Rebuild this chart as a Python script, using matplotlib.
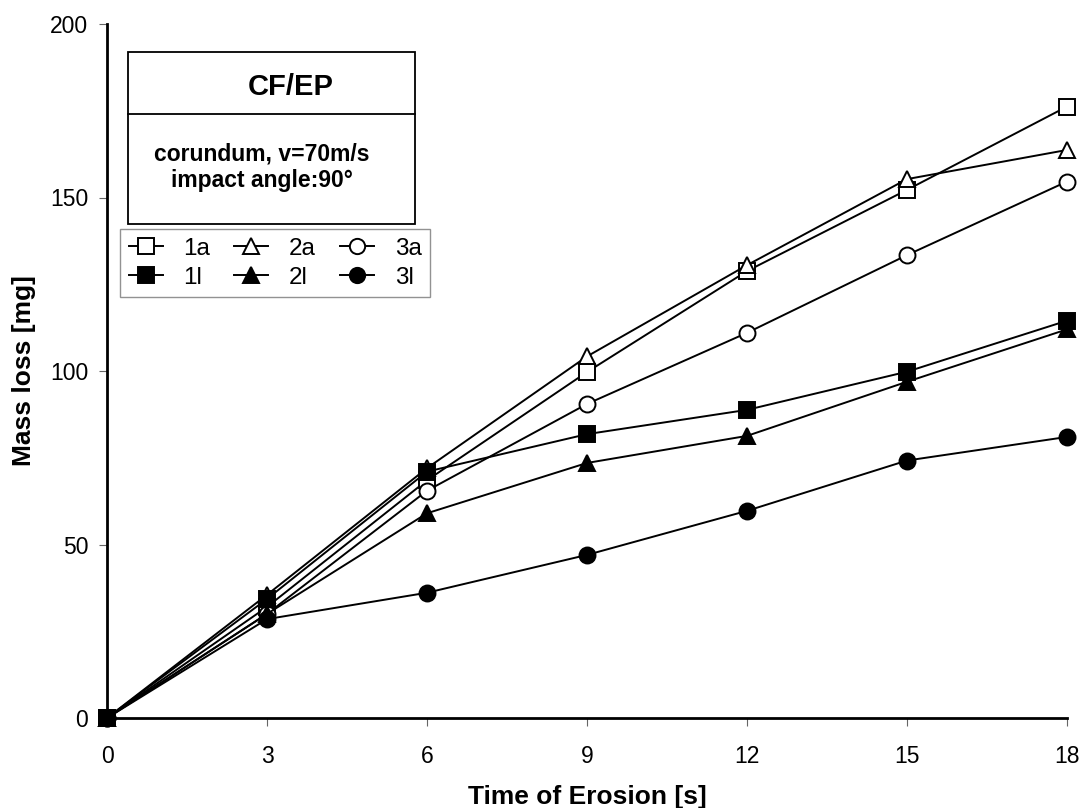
import matplotlib.pyplot as plt
from matplotlib.patches import Rectangle
from matplotlib.lines import Line2D

plt.rcParams['font.family'] = ['Liberation Sans', 'DejaVu Sans']

time_s = [0, 3, 6, 9, 12, 15, 18]
mass_1a = [0, 32, 68.5, 99.7, 128.8, 152.2, 176.2]
mass_2a = [0, 35.5, 72, 104.2, 130.5, 155.3, 163.7]
mass_3a = [0, 30, 65.5, 90.5, 111, 133.4, 154.6]
mass_1l = [0, 34.3, 71, 81.8, 88.8, 99.8, 114.5]
mass_2l = [0, 30, 59, 73.5, 81.3, 96.9, 112]
mass_3l = [0, 28.5, 36.1, 47, 59.7, 74.2, 81]

series = [
    ('1a', mass_1a, 's', 'white'),
    ('2a', mass_2a, '^', 'white'),
    ('3a', mass_3a, 'o', 'white'),
    ('1l', mass_1l, 's', 'black'),
    ('2l', mass_2l, '^', 'black'),
    ('3l', mass_3l, 'o', 'black'),
]

fig = plt.figure(figsize=(10.83, 8.08), dpi=100)
ax = fig.add_axes([107 / 1083, 1 - 718 / 808, 960 / 1083, 694 / 808])

handles = {}
for name, vals, mk, fc in series:
    h, = ax.plot(time_s, vals, color='black', lw=1.4, marker=mk, markersize=11.5,
                 markerfacecolor=fc, markeredgecolor='black', markeredgewidth=1.4,
                 clip_on=False, zorder=3)
    handles[name] = h

ax.set_xlim(0, 18)
ax.set_ylim(0, 200)
ax.set_xticks(time_s)
ax.set_yticks([0, 50, 100, 150, 200])
ax.spines['top'].set_visible(False)
ax.spines['right'].set_visible(False)
ax.spines['left'].set_linewidth(2)
ax.spines['bottom'].set_linewidth(2)
ax.tick_params(axis='both', direction='out', length=5.5, width=0.8, color='#666666',
               labelsize=16.5)
ax.tick_params(axis='x', pad=14)
ax.tick_params(axis='y', pad=8)
ax.set_xlabel('Time of Erosion [s]', fontsize=19, fontweight='bold', labelpad=12)
ax.set_ylabel('Mass loss [mg]', fontsize=19, fontweight='bold', labelpad=10)

# info box
box = Rectangle((128 / 1083, 1 - 224 / 808), 287 / 1083, 172 / 808,
                transform=fig.transFigure, fill=True, facecolor='white',
                edgecolor='black', lw=1.3, zorder=5)
fig.add_artist(box)
fig.add_artist(Line2D([128 / 1083, 415 / 1083], [1 - 114 / 808, 1 - 114 / 808],
                      transform=fig.transFigure, color='black', lw=1.3, zorder=6))
fig.text(291 / 1083, 1 - 87 / 808, 'CF/EP', ha='center', va='center',
         fontsize=21, fontweight='bold', zorder=7)
fig.text(262 / 1083, 1 - 167 / 808, 'corundum, v=70m/s\nimpact angle:90°',
         ha='center', va='center', fontsize=16.5, fontweight='bold',
         linespacing=1.2, zorder=7)

order = ['1a', '1l', '2a', '2l', '3a', '3l']
leg = fig.legend([handles[k] for k in order], order, ncol=3,
                 loc='upper left', bbox_to_anchor=(120 / 1083, 1 - 229 / 808),
                 fontsize=17.5, frameon=True, fancybox=False, edgecolor='#777777',
                 handlelength=1.4, handletextpad=0.85, columnspacing=1.0,
                 labelspacing=0.3, borderpad=0.35, borderaxespad=0)
leg.get_frame().set_linewidth(1.0)
for lh in leg.legend_handles:
    lh.set_markersize(11)

fig.savefig('out.png', dpi=100)
